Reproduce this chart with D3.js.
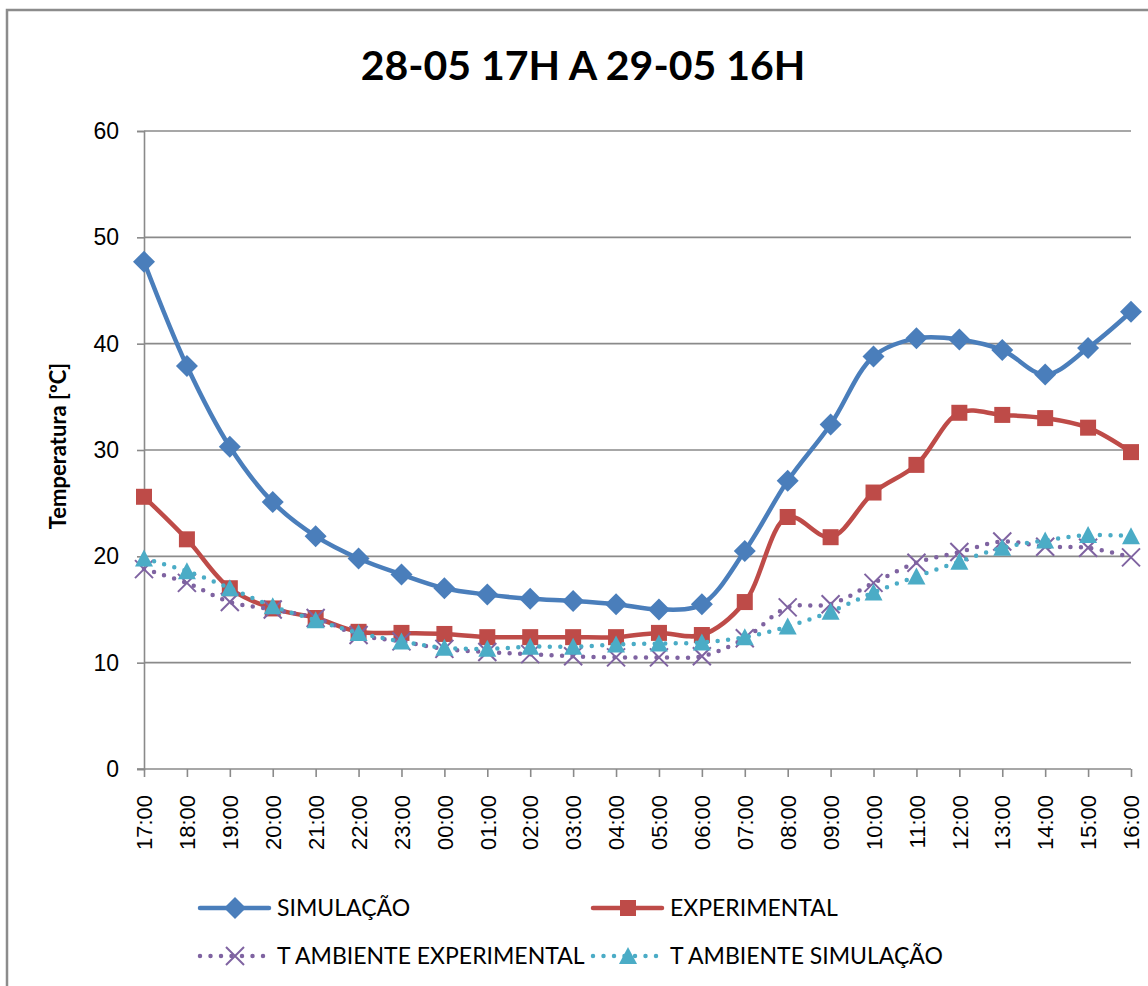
<!DOCTYPE html>
<html>
<head>
<meta charset="utf-8">
<script src="https://cdn.jsdelivr.net/npm/d3@7"></script>
<style>
  body { margin: 0; background: #fff; }
  svg { display: block; font-family: Lato, "Liberation Sans", sans-serif; }
</style>
</head>
<body>
<svg id="svg" width="1148" height="986"></svg>
<script>
// hours on the x axis (28-05 17h to 29-05 16h)
const hours = ["17:00","18:00","19:00","20:00","21:00","22:00","23:00","00:00","01:00","02:00","03:00","04:00",
               "05:00","06:00","07:00","08:00","09:00","10:00","11:00","12:00","13:00","14:00","15:00","16:00"];

const simulacao = [47.7,37.9,30.3,25.1,21.9,19.8,18.3,17.0,16.4,16.0,15.8,15.5,
                   15.0,15.5,20.5,27.1,32.4,38.8,40.5,40.4,39.4,37.1,39.6,43.0];
const experimental = [25.6,21.6,17.0,15.1,14.2,12.9,12.8,12.7,12.4,12.4,12.4,12.4,
                      12.8,12.6,15.7,23.7,21.8,26.0,28.6,33.5,33.3,33.0,32.1,29.8];
const tAmbExp = [18.8,17.5,15.7,15.0,14.2,12.6,12.0,11.3,11.0,10.8,10.6,10.5,
                 10.5,10.6,12.3,15.2,15.5,17.5,19.4,20.4,21.4,20.9,20.8,19.9];
const tAmbSim = [19.8,18.6,17.0,15.3,14.0,12.8,12.0,11.4,11.3,11.5,11.5,11.7,
                 11.8,11.9,12.4,13.4,14.8,16.6,18.1,19.5,20.8,21.5,22.0,21.9];

const yTicks = [0,10,20,30,40,50,60];

const series = [
  {name: "SIMULAÇÃO", values: simulacao, color: "#4A7EBB", dotted: false, marker: "diamond"},
  {name: "EXPERIMENTAL", values: experimental, color: "#BE4B48", dotted: false, marker: "square"},
  {name: "T AMBIENTE EXPERIMENTAL", values: tAmbExp, color: "#7F63A1", dotted: true, marker: "x"},
  {name: "T AMBIENTE SIMULAÇÃO", values: tAmbSim, color: "#4BACC6", dotted: true, marker: "triangle"}
];

const svg = d3.select("#svg");
const plotLeft = 144, plotRight = 1131, plotTop = 131, plotBottom = 769;

// outer chart frame (cut by the picture on the right and bottom)
svg.append("path")
  .attr("d", "M7,990 L7,10 L1150,10")
  .attr("fill", "none").attr("stroke", "#8c8c8c").attr("stroke-width", 2.5);

const x = d3.scalePoint().domain(hours).range([plotLeft, plotRight]);
const y = d3.scaleLinear().domain([0, 60]).range([plotBottom, plotTop]);

// gridlines
svg.append("g").selectAll("line")
  .data(yTicks.filter(d => d > 0))
  .join("line")
  .attr("x1", plotLeft).attr("x2", plotRight)
  .attr("y1", d => y(d)).attr("y2", d => y(d))
  .attr("stroke", "#8a8a8a").attr("stroke-width", 1.6);

// y axis
const yAxis = svg.append("g")
  .attr("transform", `translate(${plotLeft},0)`)
  .call(d3.axisLeft(y).tickValues(yTicks).tickSize(7).tickPadding(18));
yAxis.select(".domain").attr("stroke", "#8a8a8a").attr("stroke-width", 1.6);
yAxis.selectAll(".tick line").attr("stroke", "#8a8a8a").attr("stroke-width", 1.6);
yAxis.selectAll(".tick text").attr("font-size", 23).attr("fill", "#000");

// x axis
const xAxis = svg.append("g")
  .attr("transform", `translate(0,${plotBottom})`)
  .call(d3.axisBottom(x).tickSize(8).tickSizeOuter(0));
xAxis.select(".domain").attr("d", `M${plotLeft - 7},0H${plotRight}`)
  .attr("stroke", "#8a8a8a").attr("stroke-width", 1.6);
xAxis.selectAll(".tick line").attr("stroke", "#8a8a8a").attr("stroke-width", 1.6);
xAxis.selectAll(".tick text")
  .attr("font-size", 22).attr("fill", "#000")
  .attr("transform", "rotate(-90)")
  .attr("text-anchor", "end")
  .attr("x", -26).attr("y", 0).attr("dy", "0.35em");

// title and axis label
svg.append("text")
  .attr("x", 583).attr("y", 80)
  .attr("text-anchor", "middle")
  .attr("font-size", 41).attr("font-weight", "bold")
  .text("28-05 17H A 29-05 16H");

svg.append("text")
  .attr("transform", "translate(66,446) rotate(-90)")
  .attr("text-anchor", "middle")
  .attr("font-size", 22).attr("font-weight", "bold")
  .text("Temperatura [ºC]");

const line = d3.line()
  .x((d, i) => x(hours[i]))
  .y(d => y(d))
  .curve(d3.curveCatmullRom.alpha(0.5));

function drawMarker(g, type, color) {
  if (type === "diamond") {
    g.append("path").attr("d", "M0,-11L11,0L0,11L-11,0Z").attr("fill", color);
  } else if (type === "square") {
    g.append("rect").attr("x", -8).attr("y", -8).attr("width", 16).attr("height", 16).attr("fill", color);
  } else if (type === "triangle") {
    g.append("path").attr("d", "M0,-9L9,8L-9,8Z").attr("fill", color);
  } else {
    g.append("path").attr("d", "M-9,-9L9,9M-9,9L9,-9")
      .attr("stroke", color).attr("stroke-width", 2).attr("fill", "none");
  }
}

function styleLine(p, s) {
  p.attr("fill", "none").attr("stroke", s.color).attr("stroke-width", 4.5)
    .attr("stroke-linecap", "round").attr("stroke-linejoin", "round");
  if (s.dotted) p.attr("stroke-dasharray", "0 10.5");
}

series.forEach(s => {
  const g = svg.append("g");
  styleLine(g.append("path").attr("d", line(s.values)), s);
  s.values.forEach((v, i) => {
    drawMarker(g.append("g").attr("transform", `translate(${x(hours[i])},${y(v)})`), s.marker, s.color);
  });
});

// legend (2 x 2)
const legendPos = [[200, 908], [593, 908], [200, 956], [593, 956]];
series.forEach((s, i) => {
  const [lx, ly] = legendPos[i];
  const g = svg.append("g").attr("transform", `translate(${lx},${ly})`);
  styleLine(g.append("path").attr("d", "M0,0H69"), s);
  drawMarker(g.append("g").attr("transform", "translate(35,0)"), s.marker, s.color);
  g.append("text").attr("x", 77).attr("y", 0).attr("dy", "0.35em")
    .attr("font-size", 23).text(s.name);
});
</script>
</body>
</html>
